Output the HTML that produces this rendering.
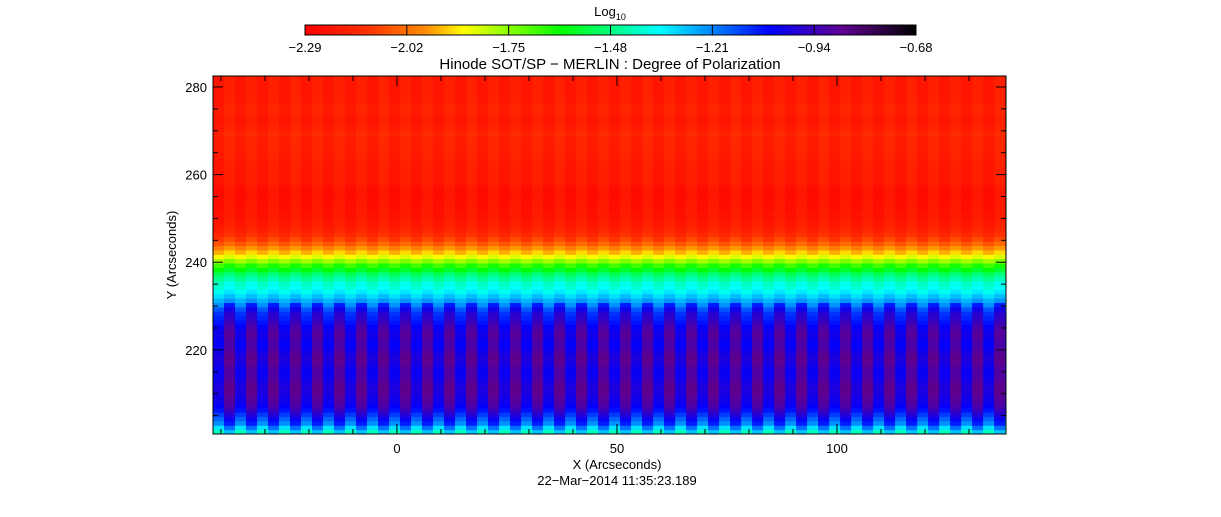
<!DOCTYPE html>
<html><head><meta charset="utf-8"><style>
body{margin:0;background:#fff;width:1221px;height:512px;overflow:hidden;font-family:"Liberation Sans",sans-serif}
svg text{font-family:"Liberation Sans",sans-serif;font-size:13px;fill:#000}
</style></head><body>
<svg id="s" width="1221" height="512">
<defs><linearGradient id="cb" x1="0" x2="1" y1="0" y2="0">
<stop offset="0" stop-color="#ff0000"/><stop offset="0.1" stop-color="#ff3000"/><stop offset="0.2" stop-color="#ff9000"/><stop offset="0.26" stop-color="#ffff00"/><stop offset="0.42" stop-color="#00ff00"/><stop offset="0.58" stop-color="#00ffff"/><stop offset="0.76" stop-color="#0000ff"/><stop offset="0.88" stop-color="#600090"/><stop offset="1" stop-color="#000000"/></linearGradient>
<clipPath id="pc"><rect x="213" y="76" width="793" height="358"/></clipPath></defs>
<text x="610" y="16" text-anchor="middle">Log<tspan font-size="9" dy="4">10</tspan></text>
<rect x="305" y="25" width="611" height="10" fill="url(#cb)" stroke="#000"/>
<g id="cbt"></g>
<text x="610" y="69" text-anchor="middle" style="font-size:15px">Hinode SOT/SP − MERLIN : Degree of Polarization</text>
<g id="heat" clip-path="url(#pc)"></g>
<rect x="213" y="76" width="793" height="358" fill="none" stroke="#000"/>
<g id="ax"></g>
<text x="617" y="469" text-anchor="middle">X (Arcseconds)</text>
<text x="176" y="255" text-anchor="middle" transform="rotate(-90 176 255)">Y (Arcseconds)</text>
<text x="617" y="485" text-anchor="middle">22−Mar−2014 11:35:23.189</text>
</svg>
<script>
const cbLabels=["−2.29","−2.02","−1.75","−1.48","−1.21","−0.94","−0.68"];
const xTicks=[0,50,100];
const yTicks=[220,240,260,280];
// log10 value per 1-arcsec row, from y=201 (bottom) upward to 282
const profile=[-1.35,-1.25,-1.15,-1.1,-1.05,-1.0,-0.97,-0.95,-0.94,-0.93,-0.92,-0.93,-0.95,-0.96,-0.96,-0.95,-0.93,-0.92,-0.94,-0.96,-0.97,-0.96,-0.95,-0.95,-0.97,-1.0,-1.02,-1.04,-1.08,-1.15,-1.25,-1.3,-1.35,-1.38,-1.4,-1.45,-1.5,-1.58,-1.65,-1.75,-1.85,-1.92,-1.98,-2.05,-2.1,-2.14,-2.17,-2.19,-2.2,-2.21,-2.21,-2.22,-2.22,-2.23,-2.23,-2.23,-2.22,-2.2,-2.2,-2.2,-2.2,-2.2,-2.19,-2.19,-2.18,-2.18,-2.18,-2.18,-2.16,-2.18,-2.19,-2.2,-2.2,-2.18,-2.18,-2.19,-2.2,-2.2,-2.2,-2.2,-2.2,-2.2];
const stripe=[-0.08,0.06];
const x0=-41.8,x1=138.4,y0=200.8,y1=282.5;
const X=v=>213+(v-x0)/(x1-x0)*793, Y=v=>434-(v-y0)/(y1-y0)*358;
const stops=[[-2.29,[255,0,0]],[-2.13,[255,48,0]],[-1.97,[255,144,0]],[-1.87,[255,255,0]],[-1.61,[0,255,0]],[-1.36,[0,255,255]],[-1.06,[0,0,255]],[-0.87,[96,0,144]],[-0.68,[0,0,0]]];
function col(v){v=Math.max(-2.29,Math.min(-0.68,v));for(let i=1;i<stops.length;i++){if(v<=stops[i][0]){const a=stops[i-1],b=stops[i],t=(v-a[0])/(b[0]-a[0]);return 'rgb('+a[1].map((c,k)=>Math.round(c+(b[1][k]-c)*t)).join(',')+')';}}return '#000';}
const NS='http://www.w3.org/2000/svg';
function mk(t,a,p){const e=document.createElementNS(NS,t);for(const k in a)e.setAttribute(k,a[k]);p.appendChild(e);return e;}
const heat=document.getElementById('heat');
for(let r=0;r<profile.length;r++){
  const yb=y0+r, amp=(r<30)?1:0.3;
  for(let c=0;c*2.5+x0<x1;c++){
    const xa=x0+c*2.5;
    const v=profile[r]+stripe[c%2]*amp;
    const e=mk('rect',{x:X(xa),y:Y(Math.min(yb+1,y1)),width:X(xa+2.5)-X(xa)+0.5,height:Y(yb)-Y(Math.min(yb+1,y1))+0.5,fill:col(v)},heat);
    
    
  }
}
const ax=document.getElementById('ax');
for(let v=-40;v<=130;v+=10){const big=xTicks.includes(v);mk('line',{x1:X(v),x2:X(v),y1:434,y2:434-(big?10:5),stroke:'#000'},ax);mk('line',{x1:X(v),x2:X(v),y1:76,y2:76+(big?10:5),stroke:'#000'},ax);}
xTicks.forEach(v=>{const t=mk('text',{x:X(v),y:453,'text-anchor':'middle'},ax);t.textContent=v;});
for(let v=205;v<=280;v+=5){const big=yTicks.includes(v);mk('line',{x1:213,x2:213+(big?10:5),y1:Y(v),y2:Y(v),stroke:'#000'},ax);mk('line',{x1:1006,x2:1006-(big?10:5),y1:Y(v),y2:Y(v),stroke:'#000'},ax);}
yTicks.forEach(v=>{const t=mk('text',{x:207,y:Y(v)+5,'text-anchor':'end'},ax);t.textContent=v;});
const cbt=document.getElementById('cbt');
cbLabels.forEach((l,i)=>{const x=305+i*611/6;mk('line',{x1:x,x2:x,y1:25,y2:35,stroke:'#000'},cbt);const t=mk('text',{x:x,y:52,'text-anchor':'middle'},cbt);t.textContent=l;});
</script>
</body></html>
